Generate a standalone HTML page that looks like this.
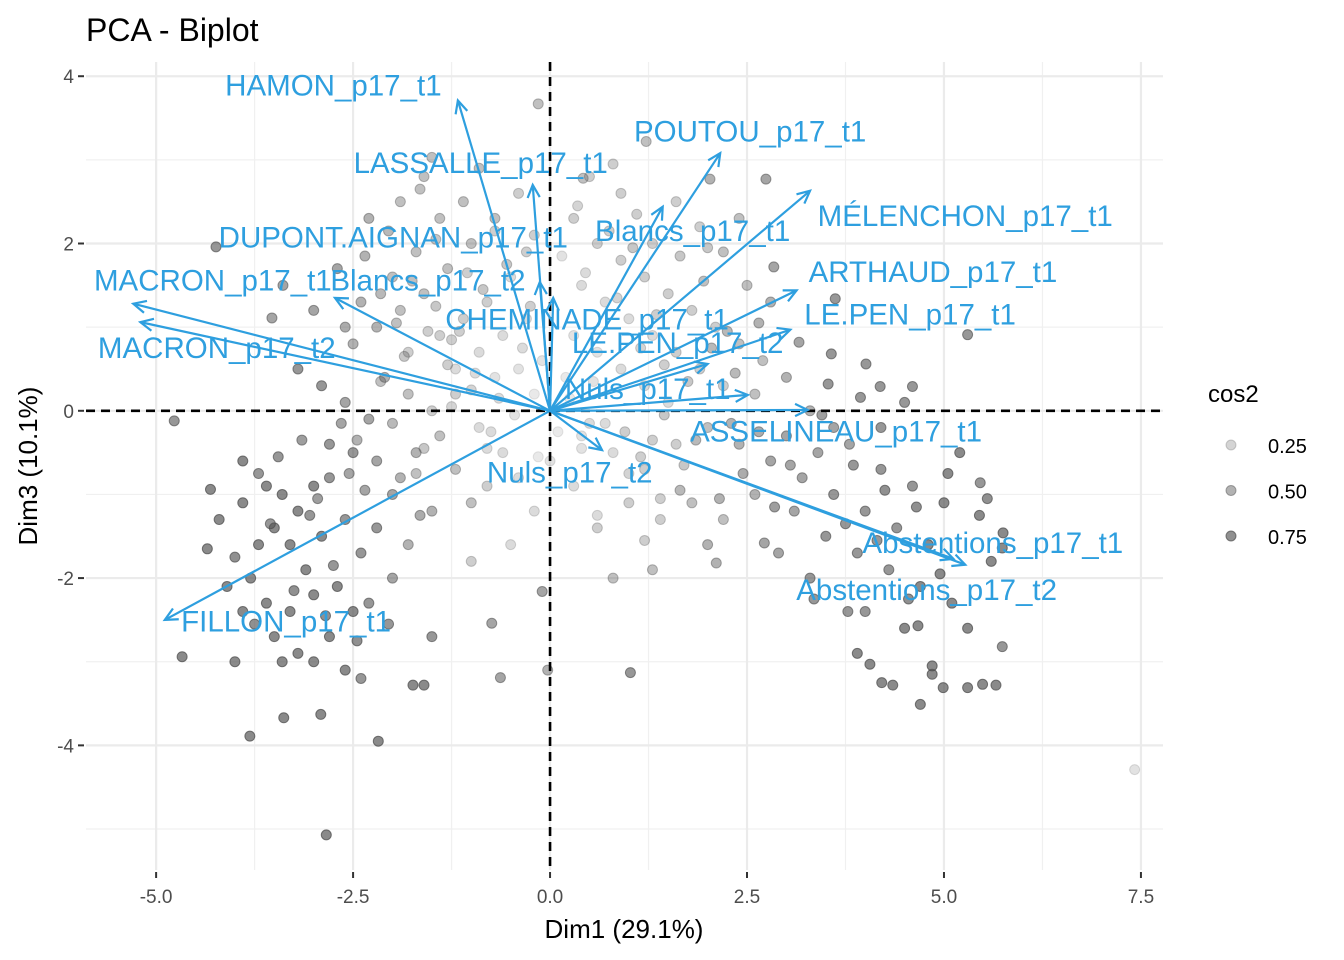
<!DOCTYPE html>
<html><head><meta charset="utf-8">
<style>
body{margin:0;background:#fff;}
svg{display:block;font-family:"Liberation Sans",sans-serif;}
</style></head>
<body>
<svg id="chart" width="1344" height="960" viewBox="0 0 1344 960">
  <rect width="1344" height="960" fill="#fff"/>
  <g id="grid"></g>
  <g id="points"></g>
  <g id="refs"></g>
  <g id="arrows"></g>
  <g id="axes"></g>
  <text x="86" y="41" font-size="32" fill="#000">PCA - Biplot</text>
  <text x="624" y="938" font-size="26" text-anchor="middle" fill="#000">Dim1 (29.1%)</text>
  <text transform="translate(37,466) rotate(-90)" font-size="26" text-anchor="middle" fill="#000">Dim3 (10.1%)</text>
  <g>
    <text x="1208" y="402" font-size="24" fill="#000">cos2</text>
    <g id="legend"></g>
  </g>
</svg>
<script>
const xTicks=[-5,-2.5,0,2.5,5,7.5];
const xTickLabels=["-5.0","-2.5","0.0","2.5","5.0","7.5"];
const yTicks=[-4,-2,0,2,4];
const yTickLabels=["-4","-2","0","2","4"];
const xMinor=[-3.75,-1.25,1.25,3.75,6.25];
const yMinor=[-5,-3,-1,1,3];
const legendValues=[0.25,0.50,0.75];
const legendLabels=["0.25","0.50","0.75"];

const varNames=["HAMON_p17_t1","LASSALLE_p17_t1","POUTOU_p17_t1","Blancs_p17_t1","MÉLENCHON_p17_t1","ARTHAUD_p17_t1","LE.PEN_p17_t1","LE.PEN_p17_t2","Nuls_p17_t1","ASSELINEAU_p17_t1","Nuls_p17_t2","Abstentions_p17_t1","Abstentions_p17_t2","FILLON_p17_t1","MACRON_p17_t1","MACRON_p17_t2","DUPONT.AIGNAN_p17_t1","Blancs_p17_t2","CHEMINADE_p17_t1"];
const varX=[-1.17,-0.22,2.16,1.43,3.30,3.13,3.05,2.00,2.51,3.27,0.66,5.27,5.12,-4.89,-5.29,-5.20,-0.13,-2.73,0.04];
const varY=[3.71,2.70,3.08,2.44,2.63,1.44,0.97,0.56,0.19,0.01,-0.47,-1.84,-1.77,-2.50,1.28,1.06,1.54,1.35,1.35];
const labX=[-2.75,-0.88,2.54,1.81,5.27,4.86,4.57,1.62,1.24,3.63,0.25,5.62,4.78,-3.35,-4.28,-4.23,-1.99,-1.55,0.47];
const labY=[3.89,2.96,3.34,2.15,2.33,1.66,1.15,0.81,0.26,-0.25,-0.74,-1.58,-2.14,-2.52,1.56,0.75,2.07,1.56,1.09];

const ptX=[-4.77,-4.31,-4.67,-3.81,-2.84,-2.18,-3.38,-2.91,-1.74,-1.6,-1.5,-0.74,-0.63,-0.03,1.02,-0.1,7.42,4.70,4.99,5.30,5.49,5.66,5.74,5.46,5.30,4.06,4.21,4.35,4.85,4.67,3.78,5.74,5.75,2.11,2.72,2.74,2.03,1.22,0.42,-0.15,-1.5,-4.24,-3.39,-3.53,2.84,3.62,3.16,3.57,4.01,3.53,3.94,4.19,4.60,
-3.9,-3.6,-3.4,-3.2,-3.0,-2.8,-3.5,-3.7,-3.3,-3.1,-2.9,-2.6,-2.4,-2.2,-2.0,-3.8,-4.1,-3.6,-3.3,-3.0,-2.7,-2.5,-2.3,-3.5,-3.2,-3.0,-2.8,-2.6,-2.4,-3.9,-4.0,-3.4,-2.2,-2.5,-2.8,-1.9,-1.7,-1.5,-1.8,-2.0,-1.4,-1.2,-1.0,-0.8,-4.2,-3.9,-2.3,-2.6,-2.9,-3.2,-2.1,-1.8,-1.5,-1.2,-0.9,-0.6,-0.4,-0.2,-1.0,-0.5,
-2.5,-2.2,-1.9,-1.6,-1.3,-1.0,-0.7,-2.0,-1.7,-1.4,-1.1,-1.8,-1.4,-1.1,-0.8,-0.5,-0.3,-1.2,-0.9,-0.6,-0.3,-0.7,-0.4,-0.2,-2.3,-1.9,-1.6,-0.4,-2.7,-2.4,-3.0,-0.9,-0.2,
0.3,0.6,0.9,1.2,1.5,0.4,0.7,1.0,1.3,1.6,1.9,2.2,0.3,0.6,0.9,1.2,1.5,0.2,1.8,2.1,2.4,2.7,2.5,2.8,2.2,1.9,1.6,0.9,1.3,2.4,0.5,3.0,2.6,3.3,3.6,
0.4,0.8,1.2,1.6,2.0,2.4,2.8,3.2,3.6,4.0,4.4,4.8,3.0,3.4,3.8,4.2,4.6,5.0,3.1,3.5,3.9,4.3,4.7,5.1,2.6,2.2,1.8,1.4,1.0,0.6,0.3,0.0,2.9,3.3,4.0,4.5,5.3,4.2,4.5,3.9,5.6,5.2,1.3,0.8,2.0,
-2.35,-2.05,-1.75,-1.45,-1.15,-0.85,-0.55,-0.25,-2.15,-1.85,-1.55,-1.25,-0.95,-0.65,-0.35,-2.45,-2.0,-1.6,-1.3,-0.75,-0.45,-0.15,-1.95,-1.65,-1.05,-0.7,-0.1,-2.6,-2.15,-1.7,-1.25,-0.8,-1.45,-1.0,
0.15,0.45,0.75,1.05,1.35,1.65,1.95,2.25,0.25,0.55,0.85,1.15,1.45,1.75,2.05,0.1,0.4,0.7,1.0,1.3,1.7,2.35,2.65,0.35,0.8,1.1,1.4,0.6,1.2,2.0,
-3.7,-3.45,-3.15,-2.95,-2.65,-2.35,-4.0,-3.75,-3.25,-2.75,-2.45,-2.05,-1.65,-3.55,-2.85,-4.35,-3.05,-2.55,
0.5,0.95,1.45,1.85,2.3,2.65,3.05,3.45,3.85,4.25,4.65,5.05,5.45,2.45,2.85,3.75,4.15,4.55,4.95,1.15,1.65,2.15,3.35,4.85,5.55];
const ptY=[-0.12,-0.94,-2.94,-3.89,-5.07,-3.95,-3.67,-3.63,-3.28,-3.28,-2.70,-2.54,-3.19,-3.10,-3.13,-2.16,-4.29,-3.51,-3.31,-3.31,-3.27,-3.28,-2.82,-0.86,0.91,-3.03,-3.25,-3.28,-3.15,-2.57,-2.40,-1.64,-1.46,-1.82,-1.58,2.77,2.77,3.22,2.78,3.67,3.03,1.96,1.50,1.11,1.72,1.34,0.82,0.68,0.56,0.32,0.16,0.29,0.29,
-1.1,-0.9,-1.0,-1.2,-0.9,-0.8,-1.4,-1.6,-1.6,-1.9,-1.5,-1.3,-1.7,-1.4,-1.0,-2.0,-2.1,-2.3,-2.4,-2.2,-2.1,-2.4,-2.3,-2.7,-2.9,-3.0,-2.7,-3.1,-3.2,-2.4,-3.0,-3.0,-0.6,-0.5,-0.4,-0.8,-0.5,-1.2,-1.6,-2.0,-0.3,-0.7,-1.1,-0.9,-1.3,-0.6,-0.1,0.1,0.3,0.5,0.4,0.2,0.0,0.2,-0.2,-0.5,-0.8,-1.2,-1.8,-1.6,
0.8,1.0,1.2,1.4,1.7,2.0,2.3,1.6,1.9,2.3,2.5,0.7,0.9,1.1,1.3,1.6,1.9,0.5,0.7,0.9,1.1,0.4,0.5,0.2,2.3,2.5,2.8,2.6,1.7,1.3,1.2,2.9,2.1,
2.3,2.0,1.8,1.6,1.4,1.5,1.3,1.1,0.9,0.7,0.5,0.3,0.9,0.7,0.5,0.3,0.1,0.4,1.2,1.0,0.8,0.6,1.5,1.3,1.9,2.2,2.5,2.6,2.0,2.3,2.8,0.4,0.2,0.0,-0.2,
-0.3,-0.5,-0.7,-0.4,-0.2,-0.4,-0.6,-0.8,-1.0,-1.2,-1.4,-1.6,-0.3,-0.5,-0.4,-0.7,-0.9,-1.1,-1.2,-1.5,-1.7,-1.9,-2.1,-2.3,-1.0,-1.3,-1.1,-1.3,-1.1,-1.4,-0.9,-0.6,-1.7,-2.0,-2.4,-2.6,-2.6,-0.2,0.1,-2.9,-1.8,-0.5,-1.9,-2.0,-1.6,
1.85,2.15,1.55,1.25,0.95,1.45,1.75,1.25,0.35,0.65,0.95,0.05,0.45,0.15,0.75,-0.35,-0.15,-0.45,0.55,-0.25,-0.05,-0.55,1.05,2.65,1.65,2.15,0.6,1.0,1.4,-0.75,0.85,-0.45,2.05,0.25,
1.85,1.65,2.15,1.95,1.15,1.85,1.55,0.95,0.15,0.35,1.35,0.75,0.55,0.35,0.75,-0.25,-0.45,-0.15,-0.75,-0.35,-0.65,0.45,1.05,2.45,2.95,2.35,-1.05,-1.25,-1.55,1.95,
-0.75,-0.55,-0.35,-1.05,-0.15,-0.95,-1.75,-2.55,-2.15,-1.85,-2.75,-2.55,-1.25,-1.35,-2.45,-1.65,-1.25,-0.75,
-0.15,-0.25,-0.05,-0.35,-0.15,-0.25,-0.65,-0.05,-0.65,-0.95,-1.15,-0.75,-1.25,-0.75,-1.15,-1.35,-1.55,-2.25,-1.95,-0.55,-0.95,-1.05,-2.25,-3.05,-1.05];
const ptCos2=[0.7,0.8,0.8,0.8,0.8,0.8,0.8,0.8,0.8,0.8,0.7,0.6,0.6,0.5,0.7,0.6,0.15,0.8,0.8,0.8,0.8,0.8,0.7,0.7,0.7,0.8,0.8,0.8,0.8,0.8,0.7,0.8,0.8,0.5,0.6,0.6,0.5,0.4,0.4,0.4,0.4,0.7,0.6,0.6,0.6,0.7,0.6,0.7,0.7,0.7,0.7,0.7,0.7,
0.8,0.8,0.8,0.8,0.8,0.7,0.8,0.8,0.8,0.8,0.8,0.7,0.7,0.7,0.6,0.8,0.8,0.8,0.8,0.8,0.8,0.8,0.7,0.8,0.8,0.8,0.8,0.8,0.7,0.8,0.8,0.8,0.6,0.7,0.7,0.5,0.5,0.5,0.5,0.6,0.4,0.4,0.4,0.3,0.8,0.8,0.6,0.6,0.7,0.7,0.5,0.4,0.3,0.3,0.2,0.2,0.2,0.2,0.3,0.2,
0.5,0.5,0.4,0.4,0.4,0.4,0.4,0.4,0.4,0.4,0.4,0.3,0.3,0.3,0.3,0.2,0.3,0.2,0.2,0.2,0.2,0.15,0.15,0.1,0.5,0.4,0.4,0.3,0.6,0.5,0.6,0.4,0.3,
0.3,0.3,0.3,0.3,0.3,0.2,0.2,0.2,0.2,0.3,0.3,0.3,0.15,0.15,0.2,0.2,0.2,0.1,0.3,0.3,0.4,0.4,0.4,0.5,0.4,0.3,0.3,0.3,0.3,0.4,0.3,0.5,0.4,0.5,0.6,
0.15,0.2,0.3,0.3,0.4,0.5,0.6,0.6,0.7,0.7,0.7,0.8,0.6,0.6,0.6,0.7,0.7,0.8,0.6,0.7,0.7,0.7,0.8,0.8,0.5,0.4,0.4,0.3,0.3,0.3,0.2,0.15,0.6,0.7,0.7,0.8,0.8,0.7,0.7,0.8,0.8,0.8,0.4,0.4,0.5,
0.5,0.45,0.4,0.35,0.3,0.35,0.35,0.3,0.4,0.35,0.3,0.25,0.2,0.2,0.2,0.5,0.45,0.35,0.3,0.2,0.15,0.1,0.4,0.4,0.3,0.3,0.15,0.55,0.45,0.4,0.3,0.2,0.35,0.25,
0.15,0.2,0.3,0.35,0.3,0.35,0.4,0.45,0.1,0.15,0.25,0.25,0.3,0.35,0.45,0.1,0.15,0.2,0.25,0.3,0.35,0.45,0.5,0.25,0.3,0.3,0.3,0.2,0.3,0.35,
0.7,0.7,0.65,0.65,0.6,0.6,0.75,0.75,0.75,0.7,0.75,0.7,0.55,0.7,0.75,0.8,0.7,0.6,
0.2,0.3,0.35,0.45,0.5,0.55,0.6,0.65,0.7,0.75,0.75,0.8,0.8,0.55,0.65,0.7,0.7,0.75,0.8,0.3,0.45,0.5,0.7,0.8,0.75];

const NS="http://www.w3.org/2000/svg";
const X0=86,X1=1163,Y0=62,Y1=870;
const xMin=-5.89,xMax=7.78,yMin=-5.49,yMax=4.17;
function sx(v){return X0+(v-xMin)/(xMax-xMin)*(X1-X0);}
function sy(v){return Y1-(v-yMin)/(yMax-yMin)*(Y1-Y0);}
function mk(tag,attrs,parent){const e=document.createElementNS(NS,tag);for(const k in attrs)e.setAttribute(k,attrs[k]);parent.appendChild(e);return e;}
const grid=document.getElementById('grid'),pts=document.getElementById('points'),refs=document.getElementById('refs'),arr=document.getElementById('arrows'),axes=document.getElementById('axes'),leg=document.getElementById('legend');

xMinor.forEach(v=>{const l=mk('line',{x1:sx(v),x2:sx(v),y1:Y0,y2:Y1,stroke:'#f0f0f0','stroke-width':1.2},grid);

});
yMinor.forEach(v=>{const l=mk('line',{x1:X0,x2:X1,y1:sy(v),y2:sy(v),stroke:'#f0f0f0','stroke-width':1.2},grid);

});
xTicks.forEach((v,i)=>{const l=mk('line',{x1:sx(v),x2:sx(v),y1:Y0,y2:Y1,stroke:'#ebebeb','stroke-width':2.2},grid);


const t=mk('line',{x1:sx(v),x2:sx(v),y1:Y1+2,y2:Y1+8,stroke:'#333','stroke-width':2},axes);


const tx=mk('text',{x:sx(v),y:Y1+33,'font-size':19,'text-anchor':'middle',fill:'#4d4d4d'},axes);tx.textContent=xTickLabels[i];

});
yTicks.forEach((v,i)=>{const l=mk('line',{x1:X0,x2:X1,y1:sy(v),y2:sy(v),stroke:'#ebebeb','stroke-width':2.2},grid);


const t=mk('line',{x1:X0-8,x2:X0-2,y1:sy(v),y2:sy(v),stroke:'#333','stroke-width':2},axes);


const tx=mk('text',{x:X0-12,y:sy(v)+7,'font-size':19,'text-anchor':'end',fill:'#4d4d4d'},axes);tx.textContent=yTickLabels[i];

});

ptX.forEach((v,i)=>{const op=Math.min(0.85,0.05+ptCos2[i]*0.8);const c=mk('circle',{cx:sx(v),cy:sy(ptY[i]),r:5,fill:'#555','fill-opacity':op,stroke:'#444','stroke-opacity':op,'stroke-width':1},pts);

});

const hl=mk('line',{x1:X0,x2:X1,y1:sy(0),y2:sy(0),stroke:'#000','stroke-width':2.6,'stroke-dasharray':'9,6'},refs);


const vl=mk('line',{x1:sx(0),x2:sx(0),y1:Y0,y2:Y1,stroke:'#000','stroke-width':2.6,'stroke-dasharray':'9,6'},refs);



const col='#2E9FDF';
varNames.forEach((n,i)=>{
 const x1=sx(0),y1=sy(0),x2=sx(varX[i]),y2=sy(varY[i]);
 const g=mk('g',{},arr);
 
 
 mk('line',{x1:x1,y1:y1,x2:x2,y2:y2,stroke:col,'stroke-width':2.2},g);
 const a=Math.atan2(y2-y1,x2-x1),L=14,w=0.45;
 mk('polyline',{points:`${x2-L*Math.cos(a-w)},${y2-L*Math.sin(a-w)} ${x2},${y2} ${x2-L*Math.cos(a+w)},${y2-L*Math.sin(a+w)}`,fill:'none',stroke:col,'stroke-width':2.2},g);
 const t=mk('text',{x:sx(labX[i]),y:sy(labY[i])+10,'font-size':29.5,'text-anchor':'middle',fill:col},arr);
 t.textContent=n;
 
 
});

legendValues.forEach((v,i)=>{const y=445+i*45.5;const op=0.05+v*0.8;
const c=mk('circle',{cx:1231,cy:y,r:5,fill:'#555','fill-opacity':op,stroke:'#444','stroke-opacity':op},leg);


const t=mk('text',{x:1268,y:y+8,'font-size':20,fill:'#000'},leg);t.textContent=legendLabels[i];

});
</script>
</body></html>
